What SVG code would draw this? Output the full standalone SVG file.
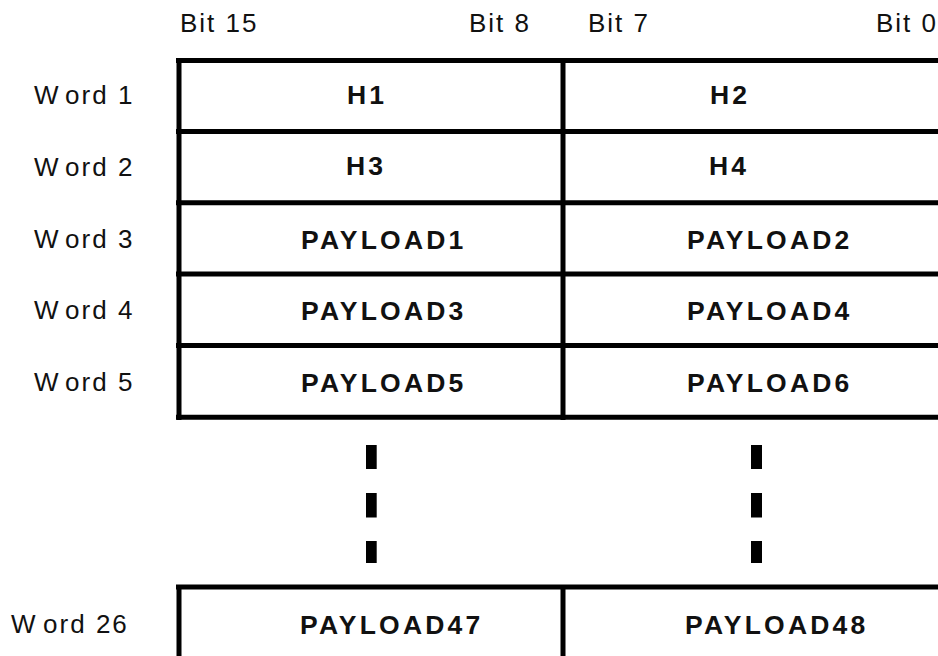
<svg xmlns="http://www.w3.org/2000/svg" width="938" height="656" viewBox="0 0 938 656">
<style>
.lbl{font-family:"Liberation Sans",Arial,sans-serif;font-size:26px;letter-spacing:2px;fill:#111}
.cell{font-family:"Liberation Sans",Arial,sans-serif;font-size:26.5px;font-weight:bold;letter-spacing:3.2px;fill:#111}
.ln{stroke:#000;stroke-width:5;fill:none}
.dash{fill:#000}
</style>
<rect width="938" height="656" fill="#fff"/>
<g id="bit-labels">
<text class="lbl" x="180" y="32">Bit 15</text>
<text class="lbl" x="469" y="32">Bit 8</text>
<text class="lbl" x="588" y="32">Bit 7</text>
<text class="lbl" x="876" y="32">Bit 0</text>
</g>
<g id="word-labels">
<text class="lbl" x="34" y="104">W<tspan dx="5">ord 1</tspan></text>
<text class="lbl" x="34" y="176">W<tspan dx="5">ord 2</tspan></text>
<text class="lbl" x="34" y="247.5">W<tspan dx="5">ord 3</tspan></text>
<text class="lbl" x="34" y="319">W<tspan dx="5">ord 4</tspan></text>
<text class="lbl" x="34" y="391">W<tspan dx="5">ord 5</tspan></text>
<text class="lbl" x="11" y="633">W<tspan dx="6">ord 26</tspan></text>
</g>
<g id="grid">
<path class="ln" d="M176 60.5H945M179 58V420M563 58V420M176 131.5H945M176 202.7H945M176 274H945M176 345.5H945M176 417.3H945"/>
<path class="ln" d="M176 587H945M179 585V660M563 585V660"/>
</g>
<g id="ellipsis">
<rect class="dash" x="366" y="445" width="10.7" height="24"/>
<rect class="dash" x="366" y="493" width="10.7" height="24.5"/>
<rect class="dash" x="366" y="541" width="10.7" height="22"/>
<rect class="dash" x="751" y="445" width="11" height="24"/>
<rect class="dash" x="751" y="493" width="11" height="24.5"/>
<rect class="dash" x="751" y="541" width="11" height="22"/>
</g>
<g id="cell-h1"><text class="cell" x="347" y="103.5">H1</text></g>
<g id="cell-h2"><text class="cell" x="710" y="103.5">H2</text></g>
<g id="cell-h3"><text class="cell" x="346" y="175">H3</text></g>
<g id="cell-h4"><text class="cell" x="709" y="175">H4</text></g>
<g id="cell-p1"><text class="cell" x="301" y="248.5">PAYLOAD1</text></g>
<g id="cell-p2"><text class="cell" x="687" y="248.5">PAYLOAD2</text></g>
<g id="cell-p3"><text class="cell" x="301" y="320">PAYLOAD3</text></g>
<g id="cell-p4"><text class="cell" x="687" y="320">PAYLOAD4</text></g>
<g id="cell-p5"><text class="cell" x="301" y="391.5">PAYLOAD5</text></g>
<g id="cell-p6"><text class="cell" x="687" y="391.5">PAYLOAD6</text></g>
<g id="cell-p47"><text class="cell" x="300" y="634">PAYLOAD47</text></g>
<g id="cell-p48"><text class="cell" x="685" y="634">PAYLOAD48</text></g>
</svg>
